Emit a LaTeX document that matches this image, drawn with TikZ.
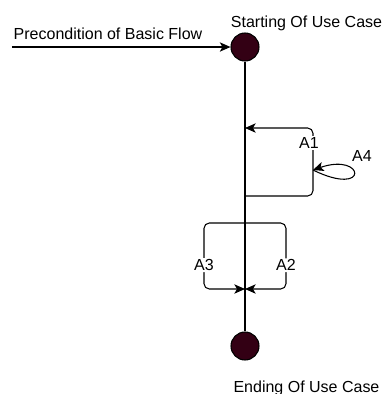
\documentclass[tikz,border=0pt]{standalone}
\usepackage{fontspec}
\setmainfont{Liberation Sans}
\usetikzlibrary{arrows.meta,positioning}
\definecolor{ucdark}{RGB}{51,0,20}

\begin{document}
\begin{tikzpicture}[x=0.75pt, y=-0.75pt, line width=0.8pt, every node/.style={font=\fontsize{12}{14}\selectfont}, s/.style={draw, circle, fill=ucdark, minimum size=21pt, inner sep=0pt}, fl/.style={-{Stealth[length=8pt, width=7pt, inset=2pt]}, rounded corners=4pt}, lbl/.style={fill=white, inner sep=1pt}]
	\useasboundingbox (0,0) rectangle (384,394);
	\node[s] (start) at (245,47) {}; \node[s] (end) at (245,346) {};
	\node[anchor=base] (startlbl) at (306.5,27) {Starting Of Use Case};
	\node[anchor=base] (endlbl) at (306.5,392) {Ending Of Use Case};
	\node[anchor=base] (prelbl) at (108,39) {Precondition of Basic Flow};
	\coordinate (pre) at (12,47);
	\draw[fl] (pre) -- (start);
	\draw (start) -- (end);
	\coordinate (a1in) at (245,128); \coordinate (a1out) at (245,196); \coordinate (a4) at (313,170);
	\coordinate (split) at (245,223); \coordinate (join) at (245,289);
	\draw[fl] (a1out) -- ++(68,0) |- (a1in) node[lbl, pos=0.39, xshift=-3pt] (a1) {A1};
	\draw[fl, rounded corners=0pt] (a4) .. controls (370,198) and (365,152) .. (a4);
	\node (a4lbl) at (362,156) {A4};
	\foreach \sx/\nm in {-1/A3, 1/A2} {\draw[fl] (split) -| ++(\sx*41,66) node[lbl, pos=0.82] (lbl\nm) {\nm} -- (join);}
\end{tikzpicture}
\end{document}
